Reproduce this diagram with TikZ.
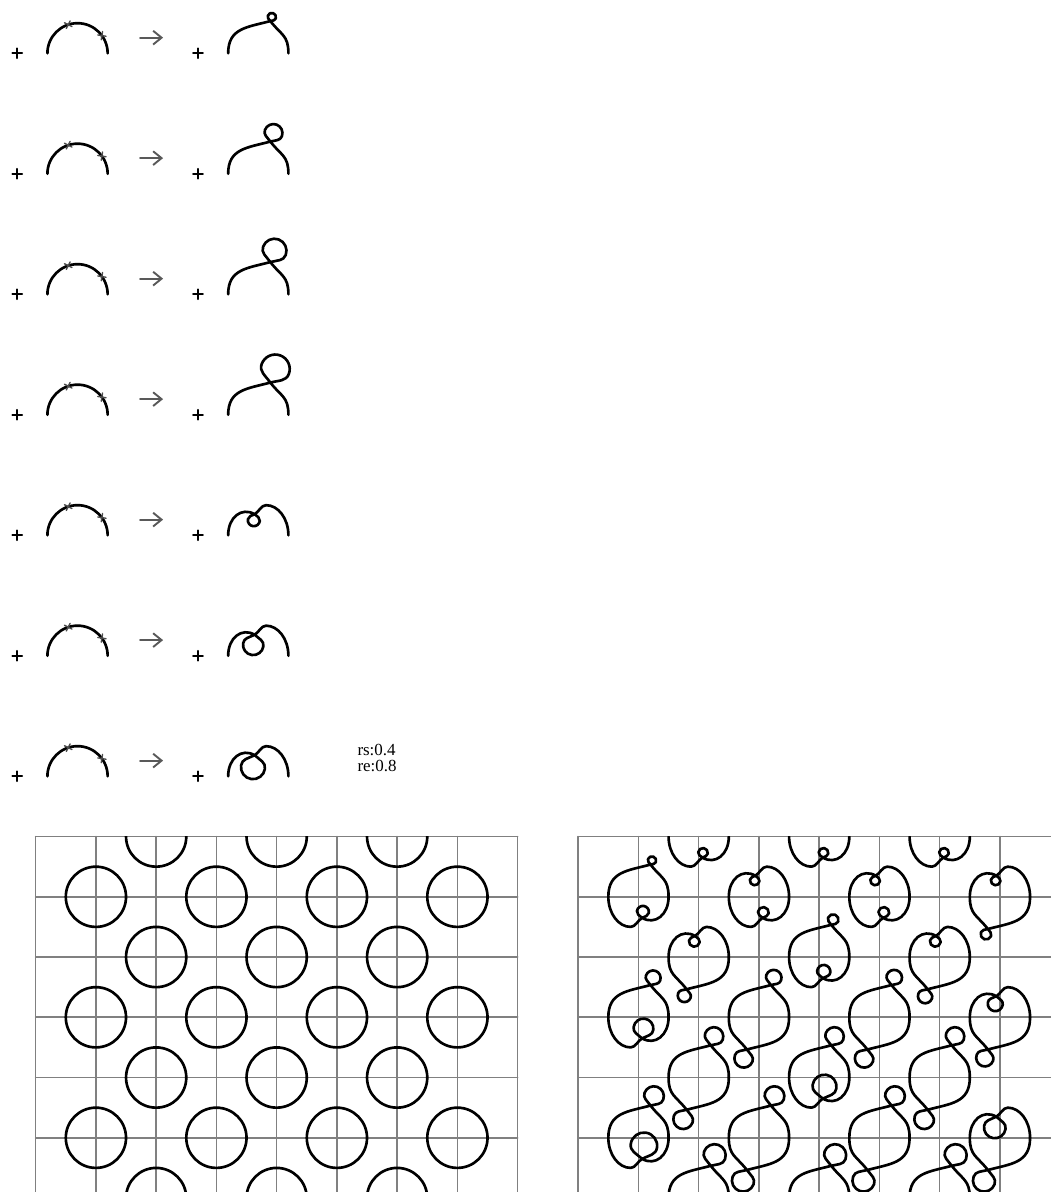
\documentclass[tikz,border=0pt]{standalone}
\usepackage{fontspec}
\setmainfont{Liberation Serif}
\usetikzlibrary{arrows.meta}
\begin{document}
\begin{tikzpicture}[line cap=round,line join=round,
  curve/.style={line width=1.25pt},
  gridline/.style={line width=0.75pt,draw=black!50},
  plusline/.style={line width=0.95pt},
  cutmark/.style={line width=0.65pt,draw=black!70},
  pics/halfout/.style={code={
    \draw[curve] (-0.5,0) .. controls +(90:0.42) and +(195:0.4) .. (0.2,0.535)
      .. controls +(15:{0.6*#1}) and +(250:{0.55*#1}) .. ++(25:{1.4142*#1})
      .. controls +(70:{0.55*#1}) and +(340:{0.55*#1}) .. ++(115:{1.4142*#1})
      .. controls +(160:{0.55*#1}) and +(70:{0.55*#1}) .. ++(205:{1.4142*#1})
      .. controls +(250:{0.55*#1}) and +(125:{0.6*#1}) .. (0.2,0.535)
      .. controls +(-52:0.3) and +(90:0.3) .. (0.5,0);
  }},
  pics/halfin/.style={code={
    \draw[curve] (-0.5,0) .. controls +(90:0.3) and +(150:0.25) .. (-0.06,0.35)
      .. controls +(317:{0.6*#1}) and +(82:{0.55*#1}) .. ++(307:{1.4142*#1})
      .. controls +(262:{0.55*#1}) and +(352:{0.55*#1}) .. ++(217:{1.4142*#1})
      .. controls +(172:{0.55*#1}) and +(262:{0.55*#1}) .. ++(127:{1.4142*#1})
      .. controls +(82:{0.55*#1}) and +(207:{0.6*#1}) .. (-0.06,0.35)
      .. controls +(30:0.08) and +(180:0.08) .. (0.13,0.5)
      .. controls +(0:0.2) and +(90:0.28) .. (0.5,0);
  }}]
  \useasboundingbox (-0.287,-18.90) rectangle (17.157,0.885);
  \clip (-0.287,-18.90) rectangle (17.157,0.885);
  \def\gl{0.305}
  \def\gr{9.31}
  % the seven rows: arc with cut marks -> arc with a loop
  \foreach \k in {0,...,6}{
    \begin{scope}[shift={(0,-2*\k)}]
      \draw[plusline] (-0.08,0) -- (0.08,0) (0,-0.08) -- (0,0.08);
      \draw[curve] (0.5,0) arc[start angle=180,end angle=0,radius=0.5];
      \foreach \t in {108,36}
        \draw[cutmark] ([shift={(\t:0.5)}]1,0) ++({\t+45}:0.07) -- ++({\t+225}:0.14)
                       ([shift={(\t:0.5)}]1,0) ++({\t-45}:0.07) -- ++({\t+135}:0.14);
      \draw[-{Straight Barb[length=4pt,width=6.5pt]},line width=0.9pt,draw=black!65]
        (2.04,0.26) -- (2.42,0.26);
      \draw[plusline] (2.92,0) -- (3.08,0) (3,-0.08) -- (3,0.08);
    \end{scope}
  }
  \foreach \k/\s in {0/0.07,1/0.15,2/0.2,3/0.24}
    \pic at (4,-2*\k) {halfout=\s};
  \foreach \k/\s in {4/0.1,5/0.17,6/0.2}
    \pic at (4,-2*\k) {halfin=\s};
  \node[anchor=base west,inner sep=0pt,font=\fontsize{8}{8}\selectfont] (rsval) at (5.64,-11.66) {rs:0.4};
  \node[anchor=base west,inner sep=0pt,font=\fontsize{8}{8}\selectfont] (reval) at (5.64,-11.92) {re:0.8};
  % grids
  \foreach \x in {\gl,\gr}{
    \foreach \j in {0,...,8}
      \draw[gridline] (\x+\j,-13) -- (\x+\j,-19.5);
    \foreach \i in {0,...,6}
      \draw[gridline] (\x,-13-\i) -- (\x+8,-13-\i);
  }
  % left: plain circles
  \begin{scope}
    \clip (\gl,-13) rectangle (\gl+8,-19.5);
    \foreach \r in {0,2,4,6}
      \foreach \c in {2,4,6}
        \draw[curve] (\gl+\c,-13-\r) circle[radius=0.5];
    \foreach \r in {1,3,5}
      \foreach \c in {1,3,5,7}
        \draw[curve] (\gl+\c,-13-\r) circle[radius=0.5];
  \end{scope}
  % right: circles with loops
  \begin{scope}
    \clip (\gr,-13) rectangle (\gr+8,-19.5);
    \foreach \c/\r/\s in {1/1/0.07,4/2/0.09,1/3/0.125,3/3/0.13,5/3/0.13,2/4/0.155,4/4/0.155,6/4/0.155,
                          1/5/0.165,3/5/0.165,5/5/0.165,2/6/0.185,4/6/0.185,6/6/0.185}
      \pic at (\gr+\c,-13-\r) {halfout=\s};
    \foreach \c/\r/\s in {3/1/0.08,5/1/0.08,7/1/0.08,2/2/0.09,6/2/0.09,7/3/0.125,7/5/0.18}
      \pic at (\gr+\c,-13-\r) {halfin=\s};
    \foreach \c/\r/\s in {7/1/0.09,2/2/0.11,6/2/0.12,3/3/0.155,5/3/0.155,7/3/0.145,2/4/0.165,6/4/0.165,
                          3/5/0.185,5/5/0.185,7/5/0.185}
      \pic[rotate=180] at (\gr+\c,-13-\r) {halfout=\s};
    \foreach \c/\r/\s in {2/0/0.08,4/0/0.08,6/0/0.08,1/1/0.1,3/1/0.09,5/1/0.09,4/2/0.11,1/3/0.165,
                          4/4/0.2,1/5/0.22}
      \pic[rotate=180] at (\gr+\c,-13-\r) {halfin=\s};
  \end{scope}
\end{tikzpicture}
\end{document}
